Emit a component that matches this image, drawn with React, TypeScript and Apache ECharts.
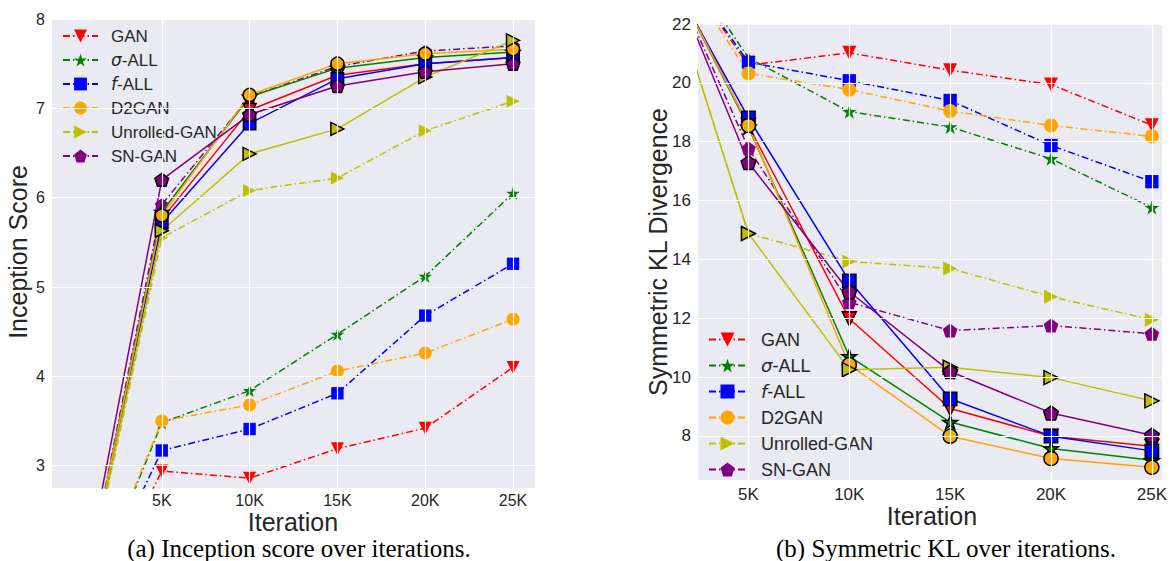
import React, { useEffect, useRef } from 'react';
import * as echarts from 'echarts';

// ---------- data ----------
const iterations = [0, 5000, 10000, 15000, 20000, 25000];
const methods = ['GAN', 'σ-ALL', 'f-ALL', 'D2GAN', 'Unrolled-GAN', 'SN-GAN'];
const xTicks = [5000, 10000, 15000, 20000, 25000];
const isTicks = [3, 4, 5, 6, 7, 8];
const klTicks = [8, 10, 12, 14, 16, 18, 20, 22];

// Inception score, dash-dot runs
const isGanDD = [0.95, 2.94, 2.86, 3.19, 3.42, 4.1];
const isSigmaDD = [1.05, 3.48, 3.84, 4.47, 5.12, 6.05];
const isFDD = [1.1, 3.17, 3.41, 3.81, 4.68, 5.26];
const isD2DD = [1.1, 3.5, 3.68, 4.06, 4.26, 4.64];
const isUnrolledDD = [1.0, 5.55, 6.08, 6.22, 6.75, 7.08];
const isSnDD = [1.0, 5.92, 7.13, 7.47, 7.64, 7.7];
// Inception score, solid runs
const isGanS = [1.0, 5.76, 6.98, 7.37, 7.5, 7.57];
const isSigmaS = [1.0, 5.84, 7.13, 7.45, 7.57, 7.63];
const isFS = [1.0, 5.72, 6.83, 7.33, 7.5, 7.57];
const isD2S = [1.0, 5.8, 7.15, 7.5, 7.61, 7.66];
const isUnrolledS = [1.0, 5.63, 6.49, 6.77, 7.35, 7.76];
const isSnS = [1.1, 6.2, 6.93, 7.25, 7.41, 7.5];

// Symmetric KL, dash-dot runs
const klGanDD = [25.5, 20.6, 21.02, 20.43, 19.94, 18.56];
const klSigmaDD = [25.9, 20.85, 19.02, 18.5, 17.42, 15.76];
const klFDD = [25.5, 20.7, 20.07, 19.4, 17.87, 16.64];
const klD2DD = [25.6, 20.32, 19.77, 19.04, 18.55, 18.18];
const klUnrolledDD = [25.7, 14.88, 13.93, 13.69, 12.73, 11.95];
const klSnDD = [25.5, 17.77, 12.54, 11.58, 11.75, 11.47];
// Symmetric KL, solid runs
const klGanS = [25.3, 18.55, 11.98, 8.93, 7.99, 7.65];
const klSigmaS = [25.2, 18.5, 10.7, 8.47, 7.57, 7.17];
const klFS = [25.0, 18.81, 13.27, 9.26, 7.99, 7.49];
const klD2S = [25.2, 18.55, 10.42, 7.99, 7.23, 6.93];
const klUnrolledS = [25.7, 14.88, 10.25, 10.33, 9.98, 9.19];
const klSnS = [25.6, 17.29, 12.9, 10.19, 8.78, 8.02];

const isDD = [isGanDD, isSigmaDD, isFDD, isD2DD, isUnrolledDD, isSnDD];
const isS = [isGanS, isSigmaS, isFS, isD2S, isUnrolledS, isSnS];
const klDD = [klGanDD, klSigmaDD, klFDD, klD2DD, klUnrolledDD, klSnDD];
const klS = [klGanS, klSigmaS, klFS, klD2S, klUnrolledS, klSnS];

// ---------- styles ----------
const COLORS = ['#FF0000', '#008000', '#0000FF', '#FFA500', '#BFBF00', '#800080'];
const STAR = 'path://M0,-10L2.245,-3.09L9.511,-3.09L3.633,1.18L5.878,8.09L0,3.82L-5.878,8.09L-3.633,1.18L-9.511,-3.09L-2.245,-3.09Z';
const PENTAGON = 'path://M0,-10L9.511,-3.09L5.878,8.09L-5.878,8.09L-9.511,-3.09Z';
const SYMBOLS = ['triangle', STAR, 'rect', 'circle', 'triangle', PENTAGON];
const ROTATE = [180, 0, 0, 0, -90, 0];
const SIZE_SCALE = [1, 1.05, 0.95, 1, 1, 1.05];
const TEXT = '#262626';
const SANS = 'Liberation Sans';

function mkSeries(i: number, vals: number[], solid: boolean, g: number, size: number) {
  const c = COLORS[i];
  return {
    type: 'line',
    name: methods[i],
    xAxisIndex: g,
    yAxisIndex: g,
    data: iterations.map((x, k) => [x, vals[k]]),
    symbol: SYMBOLS[i],
    symbolSize: size * SIZE_SCALE[i],
    symbolRotate: ROTATE[i],
    symbolKeepAspect: true,
    showSymbol: true,
    clip: true,
    z: solid ? 4 : 3,
    lineStyle: { color: c, width: 1.5, type: solid ? 'solid' : [7, 3, 1.5, 3] },
    itemStyle: { color: c, borderColor: solid ? '#000' : c, borderWidth: solid ? 1.5 : 0 },
    emphasis: { disabled: true },
    silent: true,
  };
}

function gridSeries(g: number, xs: number[], ys: number[]) {
  return {
    type: 'line',
    xAxisIndex: g,
    yAxisIndex: g,
    data: [],
    silent: true,
    z: 1,
    markLine: {
      silent: true,
      symbol: ['none', 'none'],
      label: { show: false },
      lineStyle: { color: '#ffffff', width: 1.2, type: 'solid' },
      emphasis: { disabled: true },
      data: [...xs.map((v) => ({ xAxis: v })), ...ys.map((v) => ({ yAxis: v }))],
    },
  };
}

const legendFormatter = (name: string) =>
  name === 'σ-ALL' ? '{it|σ}-ALL' : name === 'f-ALL' ? '{it|f}-ALL' : name;

const kLabel = (v: number) => (v > 0 && v % 5000 === 0 ? `${v / 1000}K` : '');

export default function App() {
  const ref = useRef<HTMLDivElement>(null);
  useEffect(() => {
    if (!ref.current) return;
    const chart = echarts.init(ref.current, undefined, { renderer: 'svg' });
    const series: any[] = [gridSeries(0, xTicks, isTicks), gridSeries(1, xTicks, klTicks)];
    for (let i = 0; i < 6; i++) series.push(mkSeries(i, isDD[i], false, 0, 13));
    for (let i = 0; i < 6; i++) series.push(mkSeries(i, klDD[i], false, 1, 14));
    for (let i = 0; i < 6; i++) series.push(mkSeries(i, isS[i], true, 0, 13));
    for (let i = 0; i < 6; i++) series.push(mkSeries(i, klS[i], true, 1, 14));

    const option: any = {
      animation: false,
      backgroundColor: '#ffffff',
      grid: [
        { left: 52, top: 19, width: 483, height: 469, show: true, backgroundColor: '#EAEAF2', borderWidth: 0 },
        { left: 698, top: 24, width: 469, height: 456, show: true, backgroundColor: '#EAEAF2', borderWidth: 0 },
      ],
      xAxis: [
        {
          type: 'value', gridIndex: 0, min: -1250, max: 26250, interval: 1250,
          axisLine: { show: false }, axisTick: { show: false }, splitLine: { show: false },
          axisLabel: { formatter: kLabel, color: TEXT, fontSize: 16, fontFamily: SANS, margin: 4, showMinLabel: true, showMaxLabel: true },
        },
        {
          type: 'value', gridIndex: 1, min: 2500, max: 25500, interval: 2500,
          axisLine: { show: false }, axisTick: { show: false }, splitLine: { show: false },
          axisLabel: { formatter: kLabel, color: TEXT, fontSize: 17, fontFamily: SANS, margin: 6 },
        },
      ],
      yAxis: [
        {
          type: 'value', gridIndex: 0, min: 2.75, max: 8, interval: 0.25,
          axisLine: { show: false }, axisTick: { show: false }, splitLine: { show: false },
          axisLabel: {
            formatter: (v: number) => (Math.abs(v - Math.round(v)) < 1e-6 ? String(Math.round(v)) : ''),
            color: TEXT, fontSize: 16, fontFamily: SANS, margin: 7,
          },
        },
        {
          type: 'value', gridIndex: 1, min: 6.5, max: 22, interval: 0.5,
          axisLine: { show: false }, axisTick: { show: false }, splitLine: { show: false },
          axisLabel: {
            formatter: (v: number) =>
              Math.abs(v - Math.round(v)) < 1e-6 && Math.round(v) % 2 === 0 ? String(Math.round(v)) : '',
            color: TEXT, fontSize: 17, fontFamily: SANS, margin: 7,
          },
        },
      ],
      legend: [
        {
          data: methods, orient: 'vertical', left: 62, top: 27, padding: 0,
          itemWidth: 35, itemHeight: 16, itemGap: 6, selectedMode: false,
          formatter: legendFormatter,
          textStyle: {
            color: TEXT, fontSize: 17, fontFamily: SANS, lineHeight: 18, padding: [0, 0, 0, 8],
            rich: { it: { fontStyle: 'italic', fontSize: 17, fontFamily: 'DejaVu Sans', color: TEXT } },
          },
        },
        {
          data: methods, orient: 'vertical', left: 708, top: 330, padding: 0,
          itemWidth: 37, itemHeight: 17.5, itemGap: 7, selectedMode: false,
          formatter: legendFormatter,
          textStyle: {
            color: TEXT, fontSize: 18, fontFamily: SANS, lineHeight: 19, padding: [0, 0, 0, 10],
            rich: { it: { fontStyle: 'italic', fontSize: 18, fontFamily: 'DejaVu Sans', color: TEXT } },
          },
        },
      ],
      graphic: [
        {
          type: 'text', x: 18, y: 252, rotation: Math.PI / 2,
          style: { text: 'Inception Score', fill: TEXT, font: `25px ${SANS}`, align: 'center', verticalAlign: 'middle' },
        },
        {
          type: 'text', x: 658, y: 252, rotation: Math.PI / 2,
          style: { text: 'Symmetric KL Divergence', fill: TEXT, font: `25px ${SANS}`, align: 'center', verticalAlign: 'middle' },
        },
        {
          type: 'text', x: 293, y: 522,
          style: { text: 'Iteration', fill: TEXT, font: `25px ${SANS}`, align: 'center', verticalAlign: 'middle' },
        },
        {
          type: 'text', x: 932, y: 516,
          style: { text: 'Iteration', fill: TEXT, font: `25px ${SANS}`, align: 'center', verticalAlign: 'middle' },
        },
        {
          type: 'text', x: 299, y: 548,
          style: { text: '(a) Inception score over iterations.', fill: '#000', font: `25px "Liberation Serif"`, align: 'center', verticalAlign: 'middle' },
        },
        {
          type: 'text', x: 946, y: 548,
          style: { text: '(b) Symmetric KL over iterations.', fill: '#000', font: `25px "Liberation Serif"`, align: 'center', verticalAlign: 'middle' },
        },
      ],
      series,
    };
    chart.setOption(option);
    return () => chart.dispose();
  }, []);
  return <div ref={ref} style={{ position: 'fixed', left: 0, top: 0, width: 1170, height: 561 }} />;
}
